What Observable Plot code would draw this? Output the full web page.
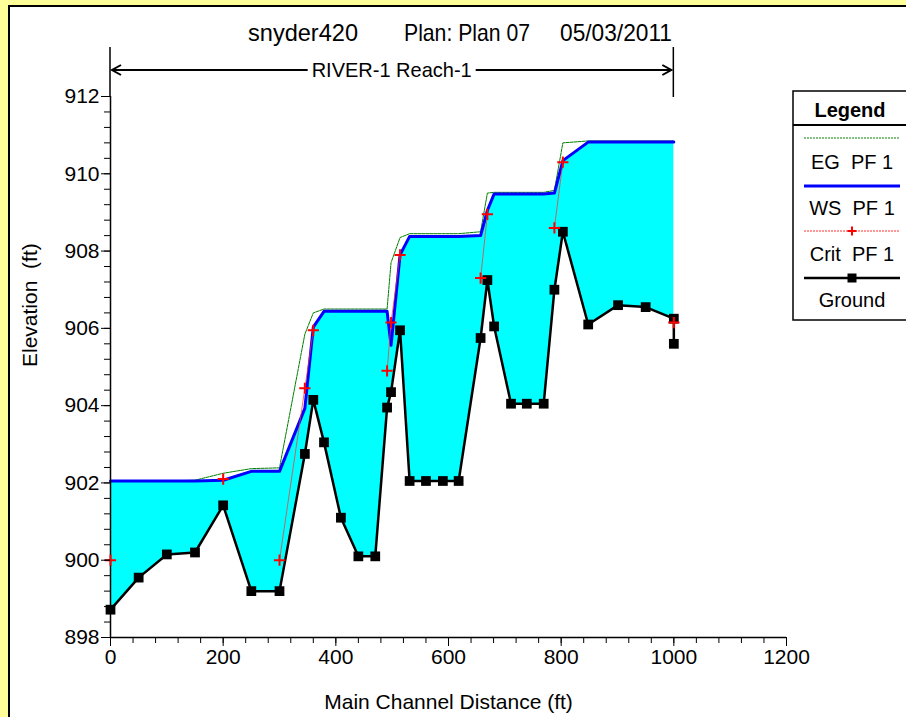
<!DOCTYPE html>
<html>
<head>
<meta charset="utf-8">
<script src="https://cdn.jsdelivr.net/npm/d3@7"></script>
<script src="https://cdn.jsdelivr.net/npm/@observablehq/plot@0.6"></script>
<style>
  html, body { margin: 0; padding: 0; background: #ffff99; }
  #wrap { position: relative; width: 906px; height: 717px; overflow: hidden; background: #ffff99; }
  #panel { position: absolute; left: 8px; top: 5px; width: 920px; height: 730px; background: #fff; border-left: 2px solid #000; border-top: 2px solid #000; }
  #chart { position: absolute; left: 0; top: 0; }
</style>
</head>
<body>
<div id="wrap"><div id="panel"></div><div id="chart"></div></div>
<script>
// ---- data ----
const stations = [0, 50, 100, 150, 200, 250, 300, 345, 360, 379, 409, 440, 470, 491, 498, 514, 531, 560, 590, 618, 657, 669, 681, 711, 739, 769, 788, 803, 848, 901, 950, 1000];
const groundElev = [898.72, 899.55, 900.15, 900.2, 901.42, 899.2, 899.2, 902.75, 904.15, 903.05, 901.1, 900.1, 900.1, 903.95, 904.35, 905.95, 902.05, 902.05, 902.05, 902.05, 905.75, 907.25, 906.05, 904.05, 904.05, 904.05, 907.0, 908.5, 906.1, 906.6, 906.55, 906.25];
const wsElev = [902.05, 902.05, 902.05, 902.05, 902.07, 902.3, 902.3, 903.93, 906.03, 906.44, 906.44, 906.44, 906.44, 906.44, 905.56, 907.9, 908.38, 908.38, 908.38, 908.38, 908.4, 909.05, 909.48, 909.48, 909.48, 909.48, 909.5, 910.34, 910.82, 910.82, 910.82, 910.82];
const egElev = [902.05, 902.05, 902.05, 902.07, 902.25, 902.37, 902.39, 905.85, 906.4, 906.5, 906.5, 906.5, 906.5, 906.5, 907.7, 908.35, 908.45, 908.45, 908.45, 908.45, 908.5, 909.5, 909.52, 909.52, 909.52, 909.52, 909.57, 910.8, 910.85, 910.85, 910.85, 910.85];
const critElev = [900.0, null, null, null, 902.1, null, 900.0, 904.45, 905.95, null, null, null, null, 904.9, 906.15, 907.9, null, null, null, null, 907.3, 908.95, null, null, null, null, 908.6, 910.3, null, null, null, 906.15];
const groundEndStation = [1000];
const groundEndElev = [905.6];

const xTicks = [0, 200, 400, 600, 800, 1000, 1200];
const xMinorTicks = d3.range(0, 1201, 40);
const yTicks = [898, 900, 902, 904, 906, 908, 910, 912];
const yMinorTicks = d3.range(898, 912.001, 0.4).map(v => +v.toFixed(1));

const titleParts = ["snyder420", "Plan: Plan 07", "05/03/2011"];
const reachLabel = "RIVER-1 Reach-1";
const reachStart = 0, reachEnd = 1000;
const xLabel = "Main Channel Distance (ft)";
const yLabel = "Elevation  (ft)";
const legendTitle = "Legend";
const legendNames = ["EG  PF 1", "WS  PF 1", "Crit  PF 1", "Ground"];

// ---- build tables ----
const rows = stations.map((s, i) => ({station: s, ground: groundElev[i], ws: wsElev[i], eg: egElev[i], crit: critElev[i]}));
const groundRows = rows.map(r => ({station: r.station, elev: r.ground}))
  .concat(groundEndStation.map((s, i) => ({station: s, elev: groundEndElev[i]})));

const FONT = '"Liberation Sans", Arial, sans-serif';
const FS = 21;

const plot = Plot.plot({
  width: 906, height: 717,
  marginLeft: 110, marginRight: 120, marginTop: 96, marginBottom: 80,
  x: {domain: [0, 1200]},
  y: {domain: [898, 912]},
  style: {fontFamily: FONT, fontSize: FS + "px", color: "#000", background: "transparent", overflow: "visible"},
  marks: [
    Plot.areaY(rows, {x: "station", y1: "ground", y2: "ws", fill: "#00ffff"}),
    Plot.line(rows, {x: "station", y: "eg", stroke: "#008000", strokeWidth: 1, strokeDasharray: "3,1"}),
    Plot.line(rows, {x: "station", y: "ws", stroke: "#0000ff", strokeWidth: 3}),
    Plot.line(rows, {x: "station", y: "crit", stroke: "#ff3030", strokeWidth: 0.9, strokeOpacity: 0.8}),
    Plot.ruleX([0], {stroke: "#000", strokeWidth: 1.5}),
    Plot.ruleY([898], {stroke: "#000", strokeWidth: 1.5}),
    Plot.line(groundRows, {x: "station", y: "elev", stroke: "#000", strokeWidth: 2.5}),
    Plot.dot(groundRows, {x: "station", y: "elev", symbol: "square", r: 5.5, fill: "#000", stroke: "none"}),
    Plot.dot(rows, {x: "station", y: "crit", symbol: "plus", r: 3.7, stroke: "#ff0000", strokeWidth: 2, fill: "none"}),
    Plot.axisX({ticks: xMinorTicks, tickSize: 6, tickFormat: () => "", label: null}),
    Plot.axisX({ticks: xTicks, tickSize: 9, tickPadding: 3, label: null, tickFormat: d => String(d), fontSize: FS}),
    Plot.axisY({ticks: yMinorTicks, tickSize: 6, tickFormat: () => "", label: null}),
    Plot.axisY({ticks: yTicks, tickSize: 9, tickPadding: 2, label: null, tickFormat: d => String(d), fontSize: FS}),
    Plot.text([xLabel], {text: d => d, frameAnchor: "bottom", dy: 71, fontSize: FS}),
    Plot.text([yLabel], {text: d => d, frameAnchor: "left", dx: -80, rotate: -90, fontSize: FS, style: "white-space:pre"})
  ]
});
document.getElementById("chart").appendChild(plot);

// ---- annotations using the plot's own scales ----
const svg = d3.select(plot);
const xs = plot.scale("x");
const ys = plot.scale("y");
const xa = xs.apply(reachStart), xb = xs.apply(reachEnd);
const yTop = ys.apply(912);
const ann = svg.append("g").attr("font-family", FONT).attr("fill", "#000");

// title (condensed like the original)
const titleX = [248, 404, 560];
const titleW = [110, 126, 112];
titleParts.forEach((t, i) => {
  ann.append("text").attr("x", titleX[i]).attr("y", 41).attr("text-anchor", "start").attr("font-size", 24)
    .attr("textLength", titleW[i]).attr("lengthAdjust", "spacingAndGlyphs").text(t);
});

// reach arrow
const ay = 70;
ann.append("line").attr("x1", xa).attr("x2", xa).attr("y1", 47).attr("y2", yTop).attr("stroke", "#000").attr("stroke-width", 1.5);
ann.append("line").attr("x1", xb).attr("x2", xb).attr("y1", 47).attr("y2", yTop + 1).attr("stroke", "#000").attr("stroke-width", 1.5);
ann.append("line").attr("x1", xa + 2).attr("x2", xb - 2).attr("y1", ay).attr("y2", ay).attr("stroke", "#000").attr("stroke-width", 2);
ann.append("path").attr("d", `M${xa + 11},${ay - 5} L${xa + 2},${ay} L${xa + 11},${ay + 5}`).attr("fill", "none").attr("stroke", "#000").attr("stroke-width", 2);
ann.append("path").attr("d", `M${xb - 11},${ay - 5} L${xb - 2},${ay} L${xb - 11},${ay + 5}`).attr("fill", "none").attr("stroke", "#000").attr("stroke-width", 2);
const rt = ann.append("text").attr("x", (xa + xb) / 2).attr("y", ay).attr("dy", "0.35em").attr("text-anchor", "middle")
  .attr("font-size", 21).attr("textLength", 160).attr("lengthAdjust", "spacingAndGlyphs").text(reachLabel);
const bb = rt.node().getBBox();
ann.insert("rect", () => rt.node()).attr("x", bb.x - 4).attr("y", bb.y).attr("width", bb.width + 8).attr("height", bb.height).attr("fill", "#fff");

// legend
const lg = svg.append("g").attr("font-family", FONT);
const lx = 793, ly = 91, lw = 130, lh = 229;
lg.append("rect").attr("x", lx).attr("y", ly).attr("width", lw).attr("height", lh).attr("fill", "#fff").attr("stroke", "#000").attr("stroke-width", 1.5);
lg.append("line").attr("x1", lx).attr("x2", lx + lw).attr("y1", 125).attr("y2", 125).attr("stroke", "#000").attr("stroke-width", 2);
lg.append("text").attr("x", 850).attr("y", 110).attr("dy", "0.35em").attr("text-anchor", "middle").attr("font-weight", "bold").attr("font-size", 20).text(legendTitle);
const sx1 = 804, sx2 = 900, cx = 852;
const lineY = [138, 186, 231, 278];
const textY = [162, 208, 254, 300];
const styles = [
  {stroke: "#008000", w: 1, dash: "2,1"},
  {stroke: "#0000ff", w: 3, dash: null},
  {stroke: "#ff3030", w: 1, dash: "2,1"},
  {stroke: "#000", w: 2.5, dash: null}
];
styles.forEach((s, i) => {
  const l = lg.append("line").attr("x1", sx1).attr("x2", sx2).attr("y1", lineY[i]).attr("y2", lineY[i]).attr("stroke", s.stroke).attr("stroke-width", s.w);
  if (s.dash) l.attr("stroke-dasharray", s.dash);
  lg.append("text").attr("x", cx).attr("y", textY[i]).attr("dy", "0.35em").attr("text-anchor", "middle").attr("font-size", 20).style("white-space", "pre").text(legendNames[i]);
});
lg.append("path").attr("d", `M${cx - 4.5},${lineY[2]} h9 M${cx},${lineY[2] - 4.5} v9`).attr("stroke", "#f00").attr("stroke-width", 2);
lg.append("rect").attr("x", cx - 4.5).attr("y", lineY[3] - 4.5).attr("width", 9).attr("height", 9).attr("fill", "#000");
</script>
</body>
</html>
